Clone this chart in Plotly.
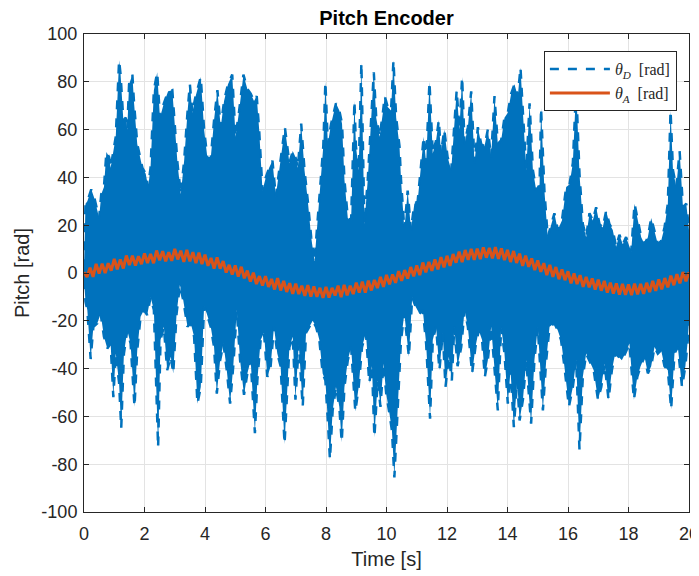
import plotly.graph_objects as go

# ---- theta_D (desired pitch) : upper / lower envelope ----
upper_t = [0.0, 0.05, 0.11, 0.24, 0.35, 0.44, 0.50, 0.57, 0.66, 0.74, 0.83, 0.88, 0.96, 1.05, 1.16, 1.21, 1.30, 1.38,
           1.43, 1.49, 1.60, 1.65, 1.76, 1.85, 1.93, 2.04, 2.12, 2.20, 2.31, 2.42, 2.51, 2.64, 2.78, 2.92, 2.98, 3.09,
           3.20, 3.31, 3.42, 3.50, 3.58, 3.69, 3.86, 3.97, 4.08, 4.19, 4.30, 4.41, 4.52, 4.63, 4.76, 4.90, 5.01, 5.12,
           5.27, 5.40, 5.51, 5.62, 5.71, 5.79, 5.90, 6.01, 6.12, 6.23, 6.34, 6.45, 6.64, 6.79, 6.90, 6.99, 7.07, 7.18,
           7.29, 7.40, 7.51, 7.62, 7.73, 7.84, 7.91, 7.98, 8.06, 8.17, 8.33, 8.44, 8.53, 8.61, 8.72, 8.83, 8.94, 8.99,
           9.08, 9.17, 9.27, 9.38, 9.49, 9.58, 9.66, 9.77, 9.88, 9.94, 10.04, 10.15, 10.23, 10.32, 10.43, 10.48, 10.59,
           10.70, 10.81, 10.92, 11.03, 11.14, 11.23, 11.31, 11.42, 11.53, 11.64, 11.73, 11.80, 11.91, 12.02, 12.14,
           12.24, 12.32, 12.41, 12.50, 12.58, 12.69, 12.80, 12.91, 13.02, 13.13, 13.24, 13.35, 13.46, 13.57, 13.68,
           13.79, 13.90, 14.01, 14.12, 14.23, 14.34, 14.43, 14.51, 14.62, 14.73, 14.84, 14.95, 15.06, 15.11, 15.22,
           15.33, 15.44, 15.55, 15.66, 15.80, 15.94, 16.05, 16.16, 16.27, 16.38, 16.49, 16.60, 16.71, 16.82, 16.93,
           17.04, 17.15, 17.26, 17.37, 17.48, 17.59, 17.70, 17.81, 17.92, 18.09, 18.20, 18.31, 18.42, 18.53, 18.64,
           18.75, 18.86, 18.97, 19.08, 19.19, 19.30, 19.39, 19.47, 19.58, 19.69, 19.80, 19.91, 20.0]
upper_v = [2, 29, 30, 35, 31, 26, 23, 33, 36, 50.6, 48.5, 44, 50.6, 57, 89, 83, 64, 65,
           60, 79, 83, 72, 54, 48, 44, 41.5, 36, 44, 76.5, 84, 65, 71, 76, 76.5, 65, 46,
           33, 47, 67, 79, 67, 74, 82, 60, 48, 48, 64, 76.5, 61, 72, 79, 83, 57, 67,
           83, 77, 75, 72, 74, 60, 34.5, 40, 44, 47, 32, 43, 61, 46, 51, 48.5, 44, 62.5,
           43, 30, 15, 5, 23, 39, 53, 80, 54, 62.5, 71, 68, 62.5, 39, 23, 22, 72, 53,
           43, 88, 20.5, 39, 67, 84, 65, 57, 67, 74, 69.5, 68, 89, 65, 53, 39, 18,
           34.5, 18, 29, 30, 46, 57, 46, 80, 50, 55.5, 64, 50, 60, 48.5, 43,
           60, 76.5, 60, 82, 54, 61, 76, 46, 61, 54, 53, 60, 48.5, 74, 54,
           55.5, 65, 67, 75, 79, 74, 86, 67, 43, 71, 43, 34.5, 37, 69, 34.5,
           15, 20.5, 25, 18, 22, 36, 37, 46, 78, 41.5, 20.5, 15, 25, 22, 27.5,
           20.5, 19, 26, 20.5, 18, 11, 16, 12, 15, 9, 29, 22, 15, 12, 15,
           23, 18, 12, 13.5, 19, 29, 68, 43, 36, 51, 27.5, 29, 18]

lower_t = [0.0, 0.05, 0.11, 0.22, 0.31, 0.44, 0.55, 0.66, 0.77, 0.88, 0.97, 1.05, 1.16, 1.23, 1.32, 1.43, 1.54, 1.67,
           1.76, 1.87, 1.98, 2.09, 2.20, 2.31, 2.45, 2.53, 2.64, 2.75, 2.87, 2.95, 3.06, 3.17, 3.28, 3.42, 3.53, 3.64,
           3.75, 3.86, 3.97, 4.06, 4.19, 4.30, 4.39, 4.50, 4.61, 4.72, 4.83, 4.94, 5.05, 5.16, 5.29, 5.40, 5.51, 5.65,
           5.73, 5.84, 5.95, 6.06, 6.17, 6.28, 6.39, 6.50, 6.63, 6.79, 6.90, 6.99, 7.10, 7.23, 7.34, 7.45, 7.56, 7.67,
           7.78, 7.89, 7.98, 8.06, 8.13, 8.22, 8.33, 8.44, 8.52, 8.61, 8.72, 8.83, 8.97, 9.08, 9.19, 9.32, 9.43, 9.52,
           9.60, 9.71, 9.80, 9.90, 9.99, 10.10, 10.18, 10.26, 10.37, 10.48, 10.59, 10.74, 10.85, 10.96, 11.09, 11.20,
           11.31, 11.44, 11.53, 11.64, 11.75, 11.86, 11.95, 12.06, 12.16, 12.24, 12.35, 12.47, 12.58, 12.69, 12.83,
           12.94, 13.05, 13.16, 13.25, 13.35, 13.46, 13.57, 13.68, 13.79, 13.90, 14.01, 14.10, 14.21, 14.32, 14.40,
           14.51, 14.62, 14.78, 14.89, 15.00, 15.17, 15.28, 15.39, 15.55, 15.66, 15.77, 15.88, 16.03, 16.16, 16.27,
           16.38, 16.49, 16.60, 16.71, 16.85, 16.99, 17.10, 17.21, 17.34, 17.45, 17.56, 17.67, 17.78, 17.89, 18.03,
           18.18, 18.29, 18.40, 18.53, 18.64, 18.75, 18.86, 18.97, 19.08, 19.19, 19.30, 19.41, 19.52, 19.63, 19.77,
           19.88, 19.96, 20.0]
lower_v = [-3, -12, -15.5, -36, -22.5, -21, -17, -26.7, -31.6, -29.5, -52, -33.7, -46, -65, -33.7, -24, -29.5, -56,
           -32.3, -18.3, -15.5, -17.6, -10, -15.5, -73, -28, -22.5, -40.7, -35, -42, -17, -5, -11.3, -22.5, -21, -26.7,
           -54.7, -47.7, -14, -17, -22.5, -31, -50.5, -36.5, -29.5, -40.7, -54.7, -38, -15.5, -36.5, -51, -42, -36.5, -67,
           -45, -28, -25, -43.5, -39, -22.5, -33.7, -39, -71.5, -31, -26.7, -53, -29.5, -56, -25, -22.5, -20, -22.5,
           -28, -42, -45, -61.7, -78, -57.5, -47.7, -56, -70.8, -47.7, -36.5, -31, -58, -47.7, -31, -25, -46, -39,
           -68.7, -45, -56, -38, -50.5, -59, -66, -85.5, -59, -28, -17, -35, -10, -14, -17, -15.5,
           -29.5, -61, -28, -22.5, -40.7, -25, -47.7, -35, -45, -22.5, -39, -31, -15.5, -22.5, -42,
           -31, -24, -28, -43.5, -36.5, -22.5, -39, -57.5, -22.5, -33.7, -54.7, -40.7, -64.5, -45, -61.7,
           -53, -36.5, -63, -36.5, -22.5, -57.5, -36.5, -22.5, -21, -24, -28, -39, -56, -47.7, -36.5,
           -74, -43.5, -33.7, -36.5, -40.7, -53, -47.7, -38, -53, -40.7, -33.7, -35, -36.5, -33.7, -29.5,
           -53, -43.5, -39, -35, -42, -39, -31, -33.7, -32.3, -39, -40.7, -57, -33.7, -31, -47.7,
           -39, -28, -20]

# ---- theta_A (actual pitch), sampled every 0.1 s ----
a_t = [round(i * 0.1, 1) for i in range(201)]
a_v = [0.3, -1.7, 2.2, -1.6, 3.8, -0.2, 3.9, 0.0, 4.1, 1.0,
       5.9, 1.5, 5.7, 1.9, 7.3, 3.3, 7.2, 3.1, 7.0, 3.7,
       8.2, 4.2, 8.0, 4.1, 9.4, 5.3, 9.1, 4.9, 8.7, 5.1,
       10.1, 5.7, 9.3, 4.7, 9.7, 4.9, 8.7, 4.1, 8.5, 3.7,
       7.7, 3.0, 6.3, 1.8, 6.5, 1.8, 5.0, 0.2, 3.4, -0.6,
       3.2, -1.5, 2.6, -2.2, 1.0, -3.6, 0.1, -4.6, -1.3, -5.2,
       -1.3, -5.8, -2.5, -6.9, -2.1, -7.3, -3.3, -7.9, -4.3, -8.7,
       -4.5, -8.8, -5.3, -9.6, -5.1, -9.9, -5.6, -10.0, -6.2, -10.4,
       -5.8, -10.3, -6.2, -9.4, -5.3, -10.1, -5.0, -9.3, -5.3, -8.8,
       -4.0, -8.2, -3.6, -8.2, -3.2, -7.3, -2.9, -6.3, -1.6, -5.8,
       -0.8, -4.7, -0.6, -4.1, 0.8, -3.3, 1.2, -2.3, 2.5, -1.4,
       3.2, -0.9, 4.4, 0.3, 4.6, 0.9, 5.7, 1.5, 6.6, 2.4,
       7.2, 3.0, 7.9, 4.3, 8.9, 4.6, 9.6, 5.5, 10.1, 5.5,
       10.2, 5.8, 10.7, 6.4, 10.5, 6.1, 10.8, 5.9, 10.3, 5.4,
       9.7, 4.6, 9.2, 4.2, 8.1, 3.0, 7.3, 2.6, 6.1, 1.2,
       5.3, 0.5, 4.1, -0.9, 3.4, -1.6, 2.5, -2.6, 1.5, -3.0,
       0.7, -4.3, -0.2, -4.6, -0.9, -5.8, -1.6, -6.0, -2.3, -6.9,
       -2.8, -7.4, -3.3, -8.2, -4.0, -8.6, -4.4, -9.0, -4.6, -9.1,
       -4.8, -9.2, -4.5, -8.9, -4.6, -8.7, -4.1, -8.0, -3.3, -7.5,
       -2.7, -6.8, -2.1, -6.0, -1.1, -5.1, -0.5, -4.3, 0.4, -3.5,
       0.3]

x_ticks = [0, 2, 4, 6, 8, 10, 12, 14, 16, 18, 20]
x_tick_text = ["0", "2", "4", "6", "8", "10", "12", "14", "16", "18", "20"]
y_ticks = [-100, -80, -60, -40, -20, 0, 20, 40, 60, 80, 100]
y_tick_text = ["-100", "-80", "-60", "-40", "-20", "0", "20", "40", "60", "80", "100"]

BLUE = "#0072BD"
ORANGE = "#D95319"
AX = "#262626"
FONT = "Liberation Sans, Arial, sans-serif"

fig = go.Figure()
fig.add_trace(go.Scatter(x=upper_t, y=upper_v, mode="lines",
                         line=dict(color=BLUE, width=2.5, dash="dash"),
                         name="<i>θ</i><sub><i>D</i></sub>  [rad]", showlegend=True))
fig.add_trace(go.Scatter(x=lower_t, y=lower_v, mode="lines", fill="tonexty", fillcolor=BLUE,
                         line=dict(color=BLUE, width=2.5, dash="dash"),
                         showlegend=False, name="lower"))
fig.add_trace(go.Scatter(x=a_t, y=a_v, mode="lines",
                         line=dict(color=ORANGE, width=3),
                         name="<i>θ</i><sub><i>A</i></sub>  [rad]"))

axis_common = dict(showline=True, linecolor=AX, linewidth=1, mirror="ticks",
                   ticks="inside", ticklen=5, tickcolor=AX,
                   showgrid=True, gridcolor="#e3e3e3", gridwidth=1, zeroline=False,
                   automargin=False, ticklabeloverflow="allow",
                   tickfont=dict(family=FONT, size=18, color=AX))

fig.update_xaxes(range=[0, 20], tickvals=x_ticks, ticktext=x_tick_text,
                 title=dict(text="Time [s]", font=dict(family=FONT, size=20, color=AX), standoff=9),
                 ticklabelstandoff=5, **axis_common)
fig.update_yaxes(range=[-100, 100], tickvals=y_ticks, ticktext=y_tick_text,
                 title=dict(text="Pitch [rad]", font=dict(family=FONT, size=20, color=AX), standoff=6),
                 ticklabelstandoff=2, **axis_common)

# the page body adds an 8px offset, so the figure is laid out shifted by 8px
fig.update_layout(
    width=699, height=568,
    margin=dict(l=76, r=18, t=26, b=64, autoexpand=False),
    paper_bgcolor="white", plot_bgcolor="white",
    title=dict(text="<b>Pitch Encoder</b>", x=0.5, xref="paper", xanchor="center",
               y=1 - 10 / 568, yref="container", yanchor="middle",
               font=dict(family=FONT, size=20, color="black")),
    legend=dict(x=0.98, y=0.964, xanchor="right", yanchor="top", traceorder="normal",
                bgcolor="white", bordercolor=AX, borderwidth=1,
                font=dict(family="Liberation Serif, DejaVu Serif, serif", size=16, color=AX),
                tracegroupgap=0, itemwidth=60),
    showlegend=True,
)

fig.write_html("out.html")
